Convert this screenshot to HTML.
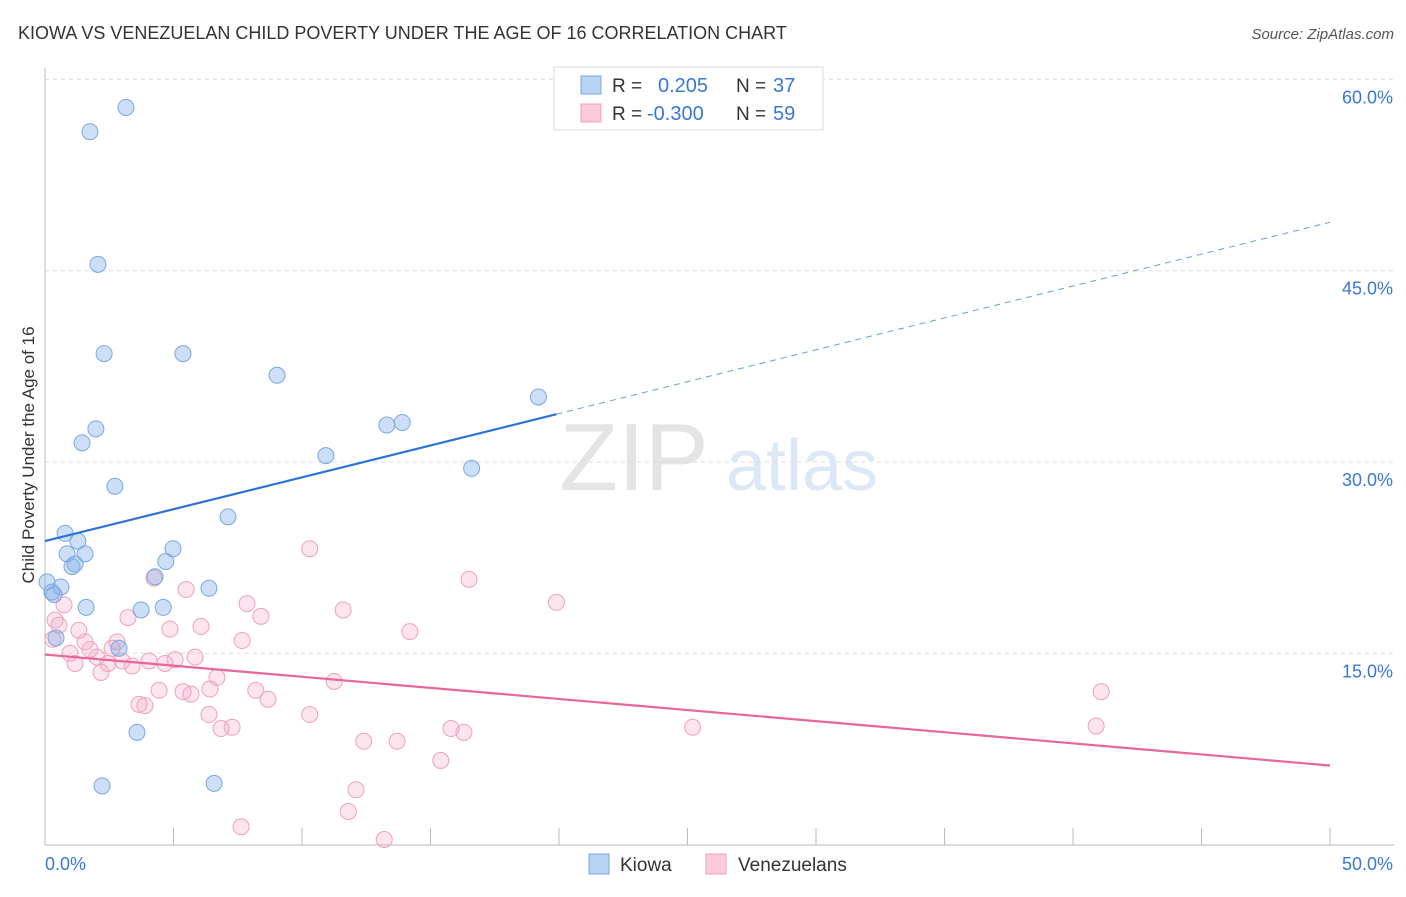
<!DOCTYPE html>
<html><head><meta charset="utf-8"><style>
body{margin:0;background:#fff;font-family:"Liberation Sans",sans-serif}
svg text{font-family:"Liberation Sans",sans-serif}
</style></head><body>
<svg width="1406" height="892" xmlns="http://www.w3.org/2000/svg">
<text x="18" y="39" font-size="18" fill="#333">KIOWA VS VENEZUELAN CHILD POVERTY UNDER THE AGE OF 16 CORRELATION CHART</text>
<text x="1394" y="39" font-size="15" fill="#555" text-anchor="end" font-style="italic">Source: ZipAtlas.com</text>
<g><text x="634" y="490" font-size="96" fill="#e4e4e4" text-anchor="middle" font-family="Liberation Serif">ZIP</text><text x="802" y="490" font-size="72" fill="#dce8f6" text-anchor="middle">atlas</text></g>
<g id="grid"></g><g id="axes"></g><g id="marks"></g>
<text x="34" y="455" font-size="17" fill="#333" text-anchor="middle" transform="rotate(-90 34 455)">Child Poverty Under the Age of 16</text>
<g>
<rect x="554" y="67" width="269" height="63" fill="#fff" stroke="#ddd"/>
<rect x="581" y="76" width="20" height="18" fill="#b8d2f4" stroke="#7aa8e0"/>
<rect x="581" y="104" width="20" height="18" fill="#fbcadb" stroke="#f0a0bc"/>
<text x="612" y="92" font-size="19" fill="#333">R = </text><text x="658" y="92" font-size="20" fill="#3a78d4">0.205</text>
<text x="736" y="92" font-size="19" fill="#333">N = </text><text x="773" y="92" font-size="20" fill="#3a78d4">37</text>
<text x="612" y="120" font-size="19" fill="#333">R = </text><text x="647" y="120" font-size="20" fill="#3a78d4">-0.300</text>
<text x="736" y="120" font-size="19" fill="#333">N = </text><text x="773" y="120" font-size="20" fill="#3a78d4">59</text>
</g>
<g>
<rect x="589" y="854" width="20" height="20" fill="#b8d2f4" stroke="#7aa8e0"/><text x="620" y="871" font-size="19" fill="#333">Kiowa</text>
<rect x="706" y="854" width="20" height="20" fill="#fbcadb" stroke="#f0a0bc"/><text x="738" y="871" font-size="19" fill="#333">Venezuelans</text>
</g>
</svg>
<script>
const yTicks=[15,30,45,60];
const yTickLabels=["15.0%","30.0%","45.0%","60.0%"];
const xTickLabels=["0.0%","50.0%"];
const kiowaX=[3.15,1.75,2.06,2.3,5.37,9.03,19.2,13.9,13.3,1.98,1.44,10.93,16.6,2.72,7.12,0.78,1.28,4.98,0.86,1.56,4.7,1.05,1.17,4.28,0.08,0.62,6.38,0.35,1.6,3.74,4.6,0.43,2.88,3.58,2.22,6.58,0.27];
const kiowaY=[57.8,55.9,45.5,38.5,38.5,36.8,35.1,33.1,32.9,32.6,31.5,30.5,29.5,28.1,25.7,24.4,23.8,23.2,22.8,22.8,22.2,21.8,22.0,21.0,20.6,20.2,20.1,19.6,18.6,18.4,18.6,16.2,15.4,8.8,4.6,4.8,19.8];
const venX=[10.3,4.24,16.5,5.49,19.9,7.86,0.74,11.6,8.4,3.23,0.39,0.54,6.07,4.86,1.32,14.2,7.67,2.8,1.56,0.31,2.61,1.75,0.97,2.02,5.84,5.06,4.05,3.0,4.67,2.45,1.17,3.39,2.18,6.69,11.25,4.44,5.37,6.42,8.2,5.68,8.68,41.1,3.66,3.89,6.38,10.3,7.28,6.85,15.8,16.3,25.2,40.9,12.4,13.7,15.4,12.1,11.8,7.63,13.2];
const venY=[23.2,20.9,20.8,20.0,19.0,18.9,18.8,18.4,17.9,17.8,17.6,17.2,17.1,16.9,16.8,16.7,16.0,15.9,15.9,16.1,15.4,15.3,15.0,14.7,14.7,14.5,14.4,14.4,14.2,14.2,14.2,14.0,13.5,13.1,12.8,12.1,12.0,12.2,12.1,11.8,11.4,12.0,11.0,10.9,10.2,10.2,9.2,9.1,9.1,8.8,9.2,9.3,8.1,8.1,6.6,4.3,2.6,1.4,0.4];
const kiowaTrend=[23.8,48.8];
const venTrend=[14.9,6.2];
const X=v=>45+v*25.7, Y=v=>844.6-v*12.753;
const NS="http://www.w3.org/2000/svg";
function mk(p,t,a){const e=document.createElementNS(NS,t);for(const k in a)e.setAttribute(k,a[k]);document.getElementById(p).appendChild(e);return e;}
yTicks.forEach((t,i)=>{
 const g=mk('grid','line',{x1:45,x2:1394,y1:Y(t),y2:Y(t),stroke:"#ddd","stroke-dasharray":"4,4"});
 
 
 const l=mk('axes','text',{x:1393,y:Y(t)+24,"font-size":18,fill:"#3a78d4","text-anchor":"end"});
 l.textContent=yTickLabels[i];
 
 
});
const ax=mk('axes','line',{x1:45,x2:1394,y1:845,y2:845,stroke:"#bbb"});


const ay=mk('axes','line',{x1:45,x2:45,y1:68,y2:845,stroke:"#bbb"});


for(let v=0;v<=50;v+=5){const t=mk('axes','line',{x1:X(v),x2:X(v),y1:828,y2:845,stroke:"#bbb"});
 
 }
[[0,"start",45],[50,"end",1393]].forEach((a,i)=>{const l=mk('axes','text',{x:a[2],y:870,"font-size":18,fill:"#3a78d4","text-anchor":a[1]});l.textContent=xTickLabels[i];
 
 });
function dots(xs,ys,fill,stroke,name){xs.forEach((x,i)=>{const c=mk('marks','circle',{cx:X(x),cy:Y(ys[i]),r:8,fill:fill,stroke:stroke,"stroke-width":1});
 
 });}
dots(venX,venY,"rgba(245,170,198,0.3)","#f0a0bc","venezuelan-point");
dots(kiowaX,kiowaY,"rgba(130,175,232,0.4)","#7aa8e0","kiowa-point");
const kx=19.9, ky=kiowaTrend[0]+(kiowaTrend[1]-kiowaTrend[0])*kx/50;
const k1=mk('marks','line',{x1:X(0),y1:Y(kiowaTrend[0]),x2:X(kx),y2:Y(ky),stroke:"#2f72d6","stroke-width":2.2});


const k2=mk('marks','line',{x1:X(kx),y1:Y(ky),x2:X(50),y2:Y(kiowaTrend[1]),stroke:"#6a9ae0","stroke-width":1,"stroke-dasharray":"6,5"});


const v1=mk('marks','line',{x1:X(0),y1:Y(venTrend[0]),x2:X(50),y2:Y(venTrend[1]),stroke:"#e8679a","stroke-width":2.2});


</script>
</body></html>
